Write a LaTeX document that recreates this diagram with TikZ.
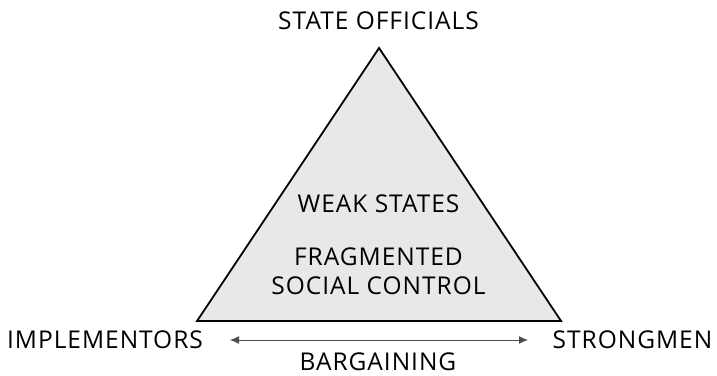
\documentclass[tikz,border=0pt]{standalone}
\usepackage{fontspec}
\setmainfont[LetterSpace=4]{Open Sans}
\usetikzlibrary{arrows.meta}

\tikzset{
  lbl/.style={font=\fontsize{24.5}{29}\selectfont, inner sep=0pt, anchor=base},
  side/.style={draw=black, line width=1.8pt, fill=black!9, line join=miter},
}

\begin{document}
\begin{tikzpicture}[x=1pt, y=-1pt]
\useasboundingbox (0,0) rectangle (717,375);
% corners of the triangle
\coordinate (top) at (379,48);
\coordinate (left) at (197,321);
\coordinate (right) at (561,321);
\draw[side] (top) -- (left) -- (right) -- cycle;
% labels (placed on their baselines)
\node[lbl] (officials) at (378.5,29) {STATE OFFICIALS};
\node[lbl] (implementors) at (105,348) {IMPLEMENTORS};
\node[lbl] (strongmen) at (632.5,348) {STRONGMEN};
\node[lbl] (bargaining) at (378,370.5) {BARGAINING};
\node[lbl] (weak) at (378.5,212) {WEAK STATES};
\node[lbl] (fragmented) at (378.5,265) {FRAGMENTED};
\node[lbl] (social) at (378.5,294) {SOCIAL CONTROL};
% bargaining arrow
\coordinate (arrL) at (230,340);
\coordinate (arrR) at (528,340);
\draw[{Latex[length=9pt,width=8pt]}-{Latex[length=9pt,width=8pt]}, black!70, line width=1pt] (arrL) -- (arrR);
\end{tikzpicture}
\end{document}
